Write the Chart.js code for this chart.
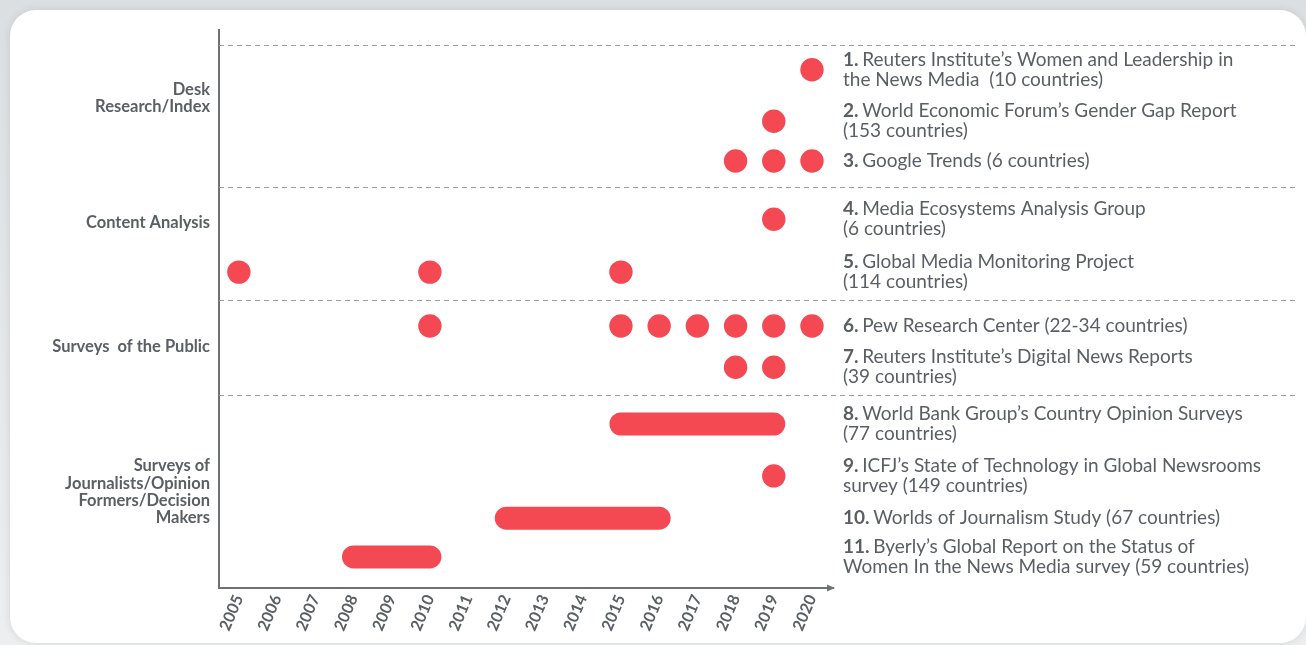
<!DOCTYPE html>
<html>
<head>
<meta charset="utf-8">
<script src="https://cdn.jsdelivr.net/npm/chart.js@4.4.1/dist/chart.umd.min.js"></script>
<style>
  html, body { margin: 0; padding: 0; }
  body {
    width: 1306px; height: 645px; position: relative; overflow: hidden;
    background: linear-gradient(180deg, #dcdfe2 0%, #eceef0 100%);
  }
  #card {
    position: absolute; left: 10px; top: 10px; width: 1296px; height: 633px;
    background: #fff; border-radius: 26px;
    box-shadow: 0 0 8px rgba(0,0,0,0.10);
  }
  #myChart { position: absolute; left: 0; top: 0; }
</style>
</head>
<body>
<div id="card"></div>
<canvas id="myChart" width="1306" height="645"></canvas>
<script>
// study list (right hand labels), row level on the y axis
const studyLabels = [
    ['Reuters Institute\u2019s Women and Leadership in', 'the News Media  (10 countries)'],
    ['World Economic Forum\u2019s Gender Gap Report', '(153 countries)'],
    ['Google Trends (6 countries)'],
    ['Media Ecosystems Analysis Group', '(6 countries)'],
    ['Global Media Monitoring Project', '(114 countries)'],
    ['Pew Research Center (22-34 countries)'],
    ['Reuters Institute\u2019s Digital News Reports', '(39 countries)'],
    ['World Bank Group\u2019s Country Opinion Surveys', '(77 countries)'],
    ['ICFJ\u2019s State of Technology in Global Newsrooms', 'survey (149 countries)'],
    ['Worlds of Journalism Study (67 countries)'],
    ['Byerly\u2019s Global Report on the Status of', 'Women In the News Media survey (59 countries)']
];
const studyRow = [0.82, 1.88, 2.70, 3.90, 4.99, 6.10, 6.95, 8.12, 9.19, 10.06, 10.86];

// single-year editions (dots)
const studyYears = [
    [2020],
    [2019],
    [2018, 2019, 2020],
    [2019],
    [2005, 2010, 2015],
    [2010, 2015, 2016, 2017, 2018, 2019, 2020],
    [2018, 2019],
    [],
    [2019],
    [],
    []
];
// multi-year surveys (bars), [from, to]
const studySpans = [null, null, null, null, null, null, null, [2015, 2019], null, [2012, 2016], [2008, 2010]];

// method groups on the left
const groupLabels = [
    ['Desk', 'Research/Index'],
    ['Content Analysis'],
    ['Surveys  of the Public'],
    ['Surveys of', 'Journalists/Opinion', 'Formers/Decision', 'Makers']
];
const groupPos = [1.40, 3.97, 6.52, 9.52];
const separators = [0.31, 3.24, 5.56, 7.52];

const yearTicks = [2005, 2006, 2007, 2008, 2009, 2010, 2011, 2012, 2013, 2014, 2015, 2016, 2017, 2018, 2019, 2020];

const red = '#f44953';
const grey = '#5a5e65';
const axisGrey = '#6e7277';

const datasets = [];
studyYears.forEach((ys, i) => {
    if (ys.length == 0) return;
    datasets.push({
        type: 'scatter',
        data: ys.map(y => ({x: y, y: studyRow[i]})),
        backgroundColor: red,
        borderWidth: 0,
        pointRadius: 11.7,
        pointHoverRadius: 11.7
    });
});
studySpans.forEach((s, i) => {
    if (!s) return;
    datasets.push({
        type: 'line',
        data: [{x: s[0], y: studyRow[i]}, {x: s[1], y: studyRow[i]}],
        borderColor: red,
        borderWidth: 23,
        borderCapStyle: 'round',
        pointRadius: 0,
        fill: false
    });
});

const extras = {
    id: 'extras',
    beforeDatasetsDraw(chart) {
        const ctx = chart.ctx;
        const yS = chart.scales.y;
        const area = chart.chartArea;
        ctx.save();
        ctx.strokeStyle = '#9a9ea3';
        ctx.lineWidth = 1;
        ctx.setLineDash([5, 4]);
        separators.forEach(v => {
            const py = Math.round(yS.getPixelForValue(v)) + 0.5;
            ctx.beginPath();
            ctx.moveTo(area.left, py);
            ctx.lineTo(1297, py);
            ctx.stroke();
        });
        ctx.restore();
    },
    afterDraw(chart) {
        const ctx = chart.ctx;
        const xS = chart.scales.x;
        const yS = chart.scales.y;
        ctx.save();
        // arrow head on the x axis
        const ay = xS.top;
        const ax = xS.right;
        ctx.fillStyle = axisGrey;
        ctx.beginPath();
        ctx.moveTo(ax + 2, ay);
        ctx.lineTo(ax - 6, ay - 3.5);
        ctx.lineTo(ax - 6, ay + 3.5);
        ctx.closePath();
        ctx.fill();

        // study labels
        const lh = 20;
        const tx = xS.right + 10;
        ctx.textBaseline = 'middle';
        ctx.fillStyle = grey;
        studyLabels.forEach((lines, i) => {
            const cy = yS.getPixelForValue(studyRow[i]);
            const y0 = cy - (lines.length - 1) * lh / 2;
            lines.forEach((line, j) => {
                let x = tx;
                if (j == 0) {
                    const num = (i + 1) + '. ';
                    ctx.font = 'bold 19px Lato';
                    ctx.fillText(num, x, y0);
                    x += ctx.measureText(num).width - 1;
                }
                ctx.font = '19px Lato';
                ctx.fillText(line, x, y0 + j * lh);
            });
        });
        ctx.restore();
    }
};

const config = {
    data: {datasets: datasets},
    options: {
        responsive: false,
        animation: false,
        events: [],
        layout: {padding: {top: 30, right: 473, left: 0, bottom: 0}},
        plugins: {legend: {display: false}, tooltip: {enabled: false}},
        scales: {
            x: {
                type: 'linear',
                min: 2004.48,
                max: 2020.55,
                afterBuildTicks: s => { s.ticks = yearTicks.map(v => ({value: v})); },
                afterFit: s => { s.height = 57; s.paddingLeft = 0; s.paddingRight = 0; },
                grid: {display: false, drawTicks: false},
                border: {display: true, color: axisGrey, width: 2},
                ticks: {
                    autoSkip: false,
                    minRotation: 67,
                    maxRotation: 67,
                    padding: 4,
                    color: grey,
                    font: {family: 'Lato', size: 16, weight: 'bold'},
                    callback: v => String(v)
                }
            },
            y: {
                type: 'linear',
                reverse: true,
                min: 0,
                max: 11.5,
                afterBuildTicks: s => { s.ticks = groupPos.map(v => ({value: v})); },
                afterFit: s => { s.width = 219; s.paddingTop = 0; s.paddingBottom = 0; },
                grid: {display: false, drawTicks: false},
                border: {display: true, color: axisGrey, width: 2},
                ticks: {
                    autoSkip: false,
                    padding: 9,
                    color: grey,
                    font: {family: 'Lato', size: 16.5, weight: 'bold', lineHeight: 1.06},
                    callback: (v, i) => groupLabels[i]
                }
            }
        }
    },
    plugins: [extras]
};

const myChart = new Chart(document.getElementById('myChart'), config);
</script>
</body>
</html>
